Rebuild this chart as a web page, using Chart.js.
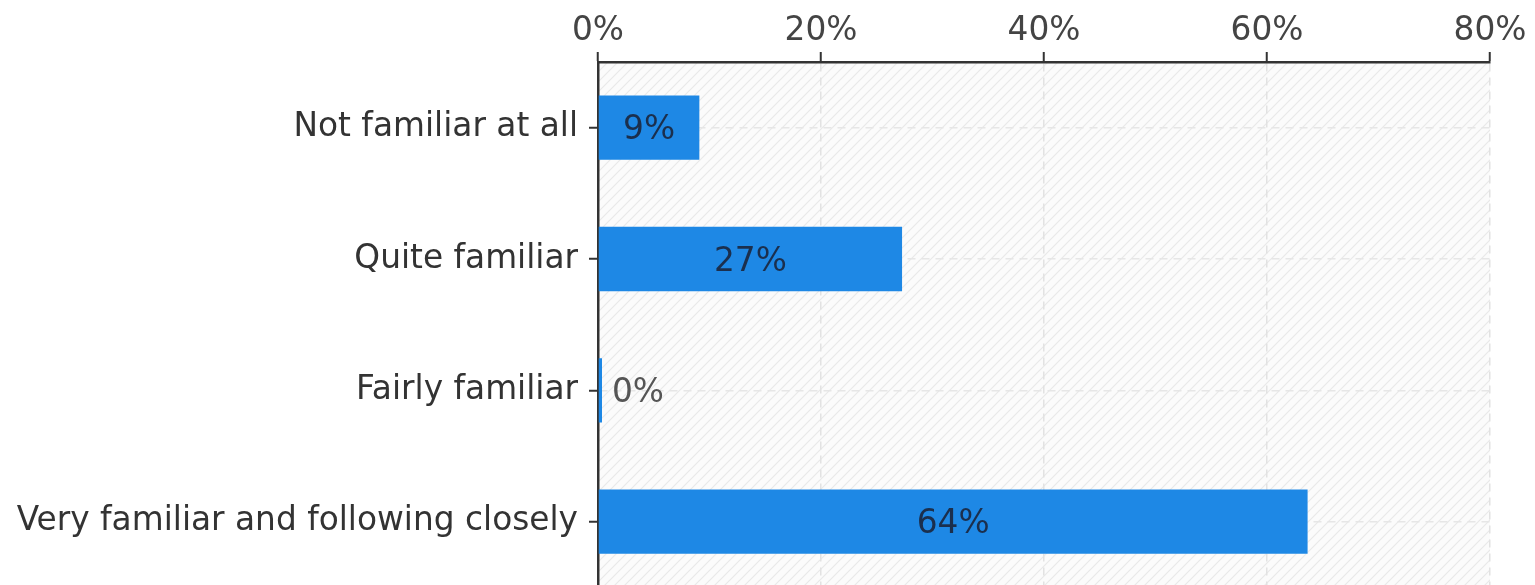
<!DOCTYPE html>
<html><head><meta charset="utf-8">
<script src="https://cdn.jsdelivr.net/npm/chart.js@4/dist/chart.umd.min.js"></script>
<style>html,body{margin:0;padding:0;background:#fff;overflow:hidden}#wrap{width:1535px;height:585px;overflow:hidden}</style>
</head><body><div id="wrap"><canvas id="c" width="1535" height="618"></canvas></div>
<script>
const categories = ["Not familiar at all", "Quite familiar", "Fairly familiar", "Very familiar and following closely"];
const values = [9.09, 27.27, 0, 63.64];
const tickValues = [0, 20, 40, 60, 80];

const FONT = "'DejaVu Sans', Verdana, sans-serif";
const FS = 32.8;

const hatchPlugin = {
  id: 'hatch',
  beforeDraw(chart) {
    const {ctx, chartArea: a} = chart;
    const p = document.createElement('canvas');
    p.width = 10; p.height = 10;
    const pc = p.getContext('2d');
    pc.fillStyle = '#fbfbfb'; pc.fillRect(0,0,10,10);
    pc.strokeStyle = '#e9e9e9'; pc.lineWidth = 1.2;
    pc.beginPath();
    pc.moveTo(0,10); pc.lineTo(10,0);
    pc.moveTo(-5,5); pc.lineTo(5,-5);
    pc.moveTo(5,15); pc.lineTo(15,5);
    pc.stroke();
    ctx.save();
    ctx.fillStyle = ctx.createPattern(p, 'repeat');
    ctx.fillRect(a.left, a.top, a.right - a.left, a.bottom - a.top);
    ctx.restore();
  }
};

const labelPlugin = {
  id: 'vlabels',
  afterDatasetsDraw(chart) {
    const {ctx} = chart;
    const meta = chart.getDatasetMeta(0);
    ctx.save();
    ctx.font = FS + "px " + FONT;
    ctx.textBaseline = 'middle';
    meta.data.forEach((bar, i) => {
      const v = values[i];
      const txt = Math.round(v) + '%';
      if (v < 3) {
        ctx.fillStyle = '#555';
        ctx.textAlign = 'left';
        ctx.fillText(txt, bar.x + 10, bar.y + 3);
      } else {
        ctx.fillStyle = '#1b2f4d';
        ctx.textAlign = 'center';
        ctx.fillText(txt, (bar.x + bar.base) / 2, bar.y + 3);
      }
    });
    ctx.restore();
  }
};

new Chart(document.getElementById('c'), {
  type: 'bar',
  data: {
    labels: categories,
    datasets: [{
      data: values,
      backgroundColor: '#1e88e5',
      borderWidth: 0,
      barPercentage: 0.49,
      categoryPercentage: 1,
      minBarLength: 4
    }]
  },
  plugins: [hatchPlugin, labelPlugin],
  options: {
    indexAxis: 'y',
    responsive: false,
    animation: false,
    layout: {padding: {left: 0, right: 45, top: 0, bottom: 0}},
    plugins: {legend: {display: false}, tooltip: {enabled: false}},
    scales: {
      x: {
        position: 'top',
        min: 0, max: 80,
        afterBuildTicks(s) { s.ticks = tickValues.map(v => ({value: v})); },
        afterFit(s) { s.height = 62; },
        ticks: {
          font: {family: FONT, size: FS},
          color: '#444',
          padding: 1,
          callback: v => v + '%'
        },
        grid: {
          color: '#e2e2e2',
          lineWidth: 1.5,
          tickColor: '#333',
          tickLength: 10,
          tickWidth: 2
        },
        border: {color: '#333', width: 2.5, dash: [8, 6]}
      },
      y: {
        afterFit(s) { s.width = 598; },
        ticks: {
          font: {family: FONT, size: FS},
          color: '#333',
          padding: 11
        },
        grid: {
          offset: false,
          color: '#e6e6e6',
          lineWidth: 1.5,
          tickColor: '#333',
          tickLength: 9,
          tickWidth: 2
        },
        border: {color: '#333', width: 2.5, dash: [8, 6]}
      }
    }
  }
});
</script></body></html>
